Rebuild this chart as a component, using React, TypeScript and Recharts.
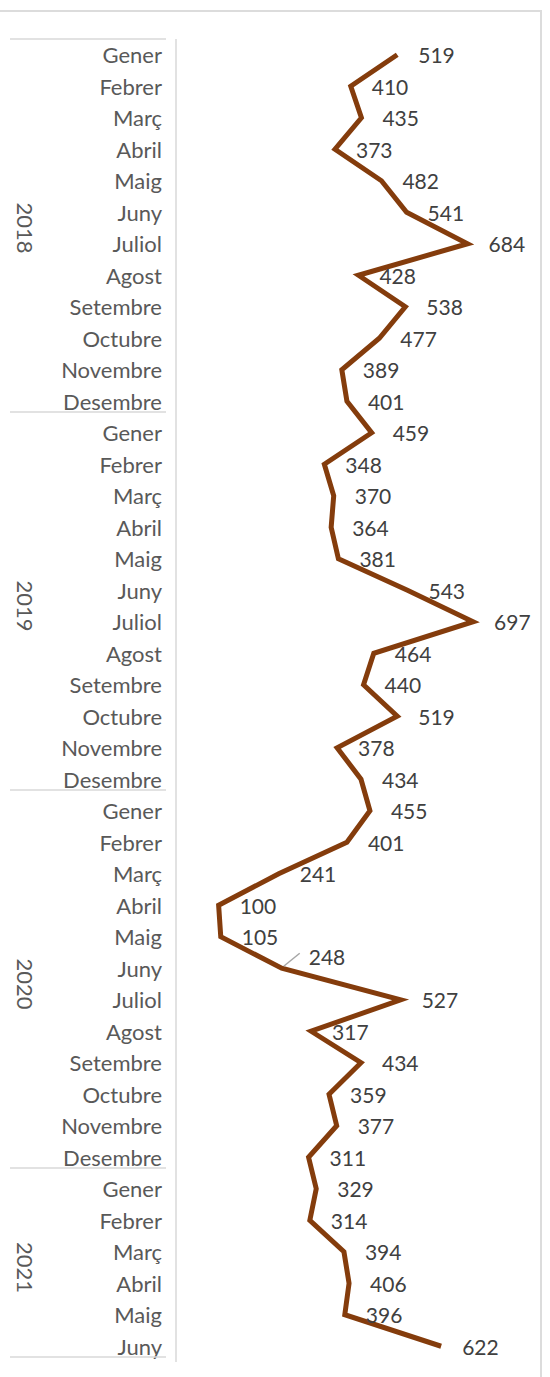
import { LineChart, Line, XAxis, YAxis, LabelList } from "recharts";

const MONTHS = [
  "Gener", "Febrer", "Març", "Abril", "Maig", "Juny",
  "Juliol", "Agost", "Setembre", "Octubre", "Novembre", "Desembre",
];
const YEARS = ["2018", "2019", "2020", "2021"];

const values2018 = [519, 410, 435, 373, 482, 541, 684, 428, 538, 477, 389, 401];
const values2019 = [459, 348, 370, 364, 381, 543, 697, 464, 440, 519, 378, 434];
const values2020 = [455, 401, 241, 100, 105, 248, 527, 317, 434, 359, 377, 311];
const values2021 = [329, 314, 394, 406, 396, 622];

const SERIES = [values2018, values2019, values2020, values2021];

// label that Excel pulled away from its point (drawn with a leader line)
const MOVED_LABEL = "2020-5";

interface Row {
  key: string;
  year: string;
  month: string;
  value: number;
  pos: number; // index inside its year
  count: number; // months in that year
}

const data: Row[] = YEARS.flatMap((year, yi) =>
  SERIES[yi].map((value, i) => ({
    key: `${year}-${i}`,
    year,
    month: MONTHS[i],
    value,
    pos: i,
    count: SERIES[yi].length,
  }))
);
const byKey = new Map(data.map((d) => [d.key, d]));

const W = 550;
const H = 1377;
const MARGIN = { top: 39, right: 33, bottom: 15, left: 0 };
const STEP = (H - MARGIN.top - MARGIN.bottom) / data.length;

const TEXT = "#595959";
const GRID = "#d9d9d9";
const FONT = "Lato, 'Open Sans', sans-serif";

function CategoryTick(props: any) {
  const { y, payload } = props;
  const d = byKey.get(payload.value);
  if (!d) return null;
  const mid = Math.floor((d.count - 1) / 2);
  const yearY = d.count % 2 === 0 ? y + STEP / 2 : y;
  return (
    <g>
      <text
        x={162}
        y={y}
        textAnchor="end"
        dominantBaseline="central"
        fontSize={22}
        fontFamily={FONT}
        fill={TEXT}
      >
        {d.month}
      </text>
      {d.key === data[0].key && (
        <line x1={10} x2={166} y1={y - STEP / 2} y2={y - STEP / 2} stroke={GRID} strokeWidth={1.5} />
      )}
      {d.pos === d.count - 1 && (
        <line x1={10} x2={166} y1={y + STEP / 2 - 5} y2={y + STEP / 2 - 5} stroke={GRID} strokeWidth={1.5} />
      )}
      {d.pos === mid && (
        <text
          x={25}
          y={yearY}
          textAnchor="middle"
          dominantBaseline="central"
          fontSize={22}
          fontFamily={FONT}
          fill={TEXT}
          transform={`rotate(90, 25, ${yearY})`}
        >
          {d.year}
        </text>
      )}
    </g>
  );
}

function ValueLabel(props: any) {
  const { x, y, value, index } = props;
  const moved = data[index]?.key === MOVED_LABEL;
  const tx = moved ? x + 27 : x + 21;
  const ty = moved ? y - 12 : y;
  return (
    <g>
      {moved && <line x1={x + 2} y1={y - 2} x2={x + 18} y2={y - 15} stroke="#a6a6a6" strokeWidth={1.5} />}
      <text
        x={tx}
        y={ty}
        textAnchor="start"
        dominantBaseline="central"
        fontSize={21}
        fontFamily={FONT}
        fill="#404040"
      >
        {value}
      </text>
    </g>
  );
}

export default function App() {
  return (
    <div style={{ position: "absolute", top: 0, left: 0, width: W, height: H, background: "#fff", overflow: "hidden" }}>
      <div
        style={{
          position: "absolute",
          top: 10,
          left: -4,
          width: 546,
          height: H,
          border: "2px solid #dcdcdc",
          boxSizing: "border-box",
        }}
      />
      <div style={{ position: "absolute", top: 0, left: 0 }}>
        <LineChart layout="vertical" width={W} height={H} data={data} margin={MARGIN}>
          <XAxis type="number" dataKey="value" domain={[0, 800]} hide />
          <YAxis
            type="category"
            dataKey="key"
            width={176}
            interval={0}
            padding={{ top: STEP / 2, bottom: STEP / 2 }}
            tickLine={false}
            axisLine={{ stroke: GRID, strokeWidth: 1.5 }}
            tick={(p: any) => <CategoryTick {...p} />}
          />
          <Line
            type="linear"
            dataKey="value"
            stroke="#843C0C"
            strokeWidth={5}
            dot={false}
            activeDot={false}
            isAnimationActive={false}
          >
            <LabelList dataKey="value" content={(p: any) => <ValueLabel {...p} />} />
          </Line>
        </LineChart>
      </div>
    </div>
  );
}
